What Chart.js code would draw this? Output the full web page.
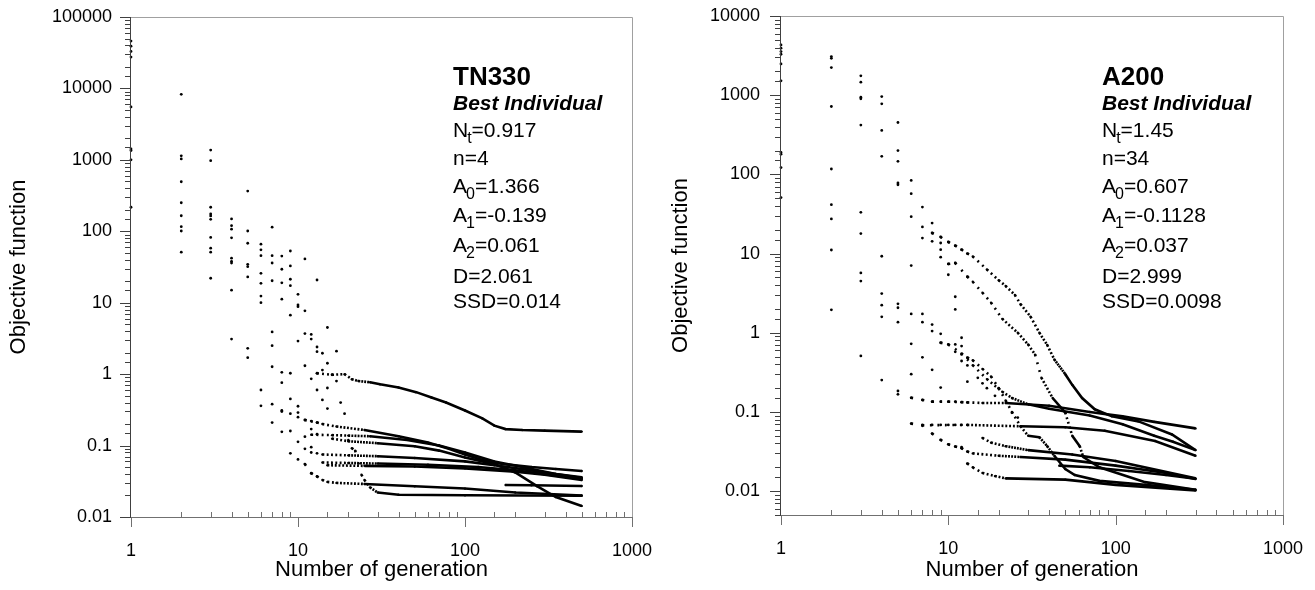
<!DOCTYPE html>
<html>
<head>
<meta charset="utf-8">
<script src="https://cdn.jsdelivr.net/npm/chart.js@4.4.1/dist/chart.umd.min.js"></script>
<style>
  html, body { margin: 0; padding: 0; background: #fff; }
  #wrap { position: relative; width: 1315px; height: 590px; }
  .box { position: absolute; top: 0; height: 590px; }
</style>
</head>
<body>
<div id="wrap">
  <div class="box" style="left:0;width:657px"><canvas id="tn"></canvas></div>
  <div class="box" style="left:657px;width:658px"><canvas id="a2"></canvas></div>
</div>
<script>
// values: [generation, objective function]

// TN330 - scattered individuals of the first generations
const tnEarly = [
  [1,46000],[1,39000],[1,33000],[1,27500],[1,5500],[1,1420],[1,1350],[1,1000],[1,217],
  [2,8280],[2,1140],[2,1030],[2,494],[2,251],[2,165],[2,116],[2,101],[2,51],
  [3,1370],[3,973],[3,217],[3,175],[3,164],[3,147],[3,82],[3,58],[3,51],[3,22],
  [4,149],[4,120],[4,107],[4,81],[4,42],[4,38],[4,36],[4,15],[4,3.1],
  [5,366],[5,101],[5,68],[5,34.5],[5,32],[5,23],[5,2.3],[5,1.7],
  [6,66],[6,55],[6,45.5],[6,25.8],[6,18.7],[6,12.4],[6,10],[6,0.6],[6,0.36],
  [7,114],[7,45.5],[7,36],[7,20.3],[7,3.9],[7,2.5],[7,1.27],[7,0.38],[7,0.21],
  [8,45],[8,29.4],[8,19],[8,11.2],[8,1.06],[8,0.76],[8,0.31],[8,0.3],[8,0.156],
  [9,53],[9,32.7],[9,21.3],[9,17.3],[9,6.7],[9,1.03],[9,0.45],[9,0.28],[9,0.16],[9,0.078],
  [10,13.1],[10,9.3],[10,8.8],[10,2.9],[10,0.355],[10,0.29],[10,0.25],[10,0.113],[10,0.064],
  [11,41],[11,7.7],[11,3.7],[11,1.31],[11,0.228],[11,0.133],[11,0.09],[11,0.055],
  [12,3.6],[12,3.1],[12,0.86],[12,0.22],[12,0.17],[12,0.095],[12,0.08],[12,0.041],
  [13,20.8],[13,2.4],[13,2.06],[13,1.03],[13,0.6],[13,0.21],[13,0.144],[13,0.078],[13,0.037],
  [14,1.96],[14,1.14],[14,0.435],[15,4.5],[15,1.42],[15,0.64],[15,0.33],
  [16,0.98],[17,2.1],[17,0.8],[18,0.4],[19,0.28]
];
// TN330 - the runs once they settle
const tnRunA = [[13,1.03],[16,0.98],[19,1.0],[21,0.85],[23,0.8],[27,0.77],[31,0.72],[40,0.65],[51,0.56],[63,0.47],[77,0.4],[100,0.31],[127,0.24],[150,0.19],[175,0.17],[220,0.165],[300,0.162],[500,0.157]];
const tnRunB = [[11,0.228],[13,0.21],[14,0.2],[17,0.185],[25,0.165],[40,0.135],[60,0.11],[80,0.09],[100,0.075],[130,0.062],[170,0.055],[250,0.05],[350,0.047],[500,0.044]];
const tnRunC = [[12,0.142],[16,0.14],[20,0.138],[27,0.135],[45,0.12],[70,0.1],[100,0.08],[150,0.06],[220,0.05],[350,0.04],[500,0.036]];
const tnRunD = [[16,0.125],[20,0.115],[30,0.108],[50,0.098],[70,0.085],[100,0.068],[150,0.055],[200,0.042],[270,0.027],[350,0.019],[500,0.0143]];
const tnRunE = [[14,0.075],[20,0.073],[30,0.071],[50,0.067],[100,0.06],[150,0.053],[250,0.045],[500,0.035]];
const tnRunF = [[14,0.058],[20,0.057],[30,0.056],[60,0.054],[120,0.05],[200,0.045],[500,0.034]];
const tnRunG = [[15,0.053],[25,0.052],[50,0.051],[100,0.048],[200,0.043],[300,0.039],[500,0.033]];
const tnRunH = [[11,0.055],[12,0.041],[13,0.037],[14,0.033],[15,0.031],[17,0.03],[25,0.029],[50,0.027],[100,0.025],[200,0.022],[500,0.02]];
const tnRunI = [[20,0.12],[21,0.092],[22,0.085],[24,0.039],[25,0.033],[27,0.026],[30,0.022],[40,0.0205],[100,0.0202],[500,0.0198]];
const tnRunJ = [[175,0.028],[250,0.0278],[500,0.0272]];
const tnRuns = [tnRunA, tnRunB, tnRunC, tnRunD, tnRunE, tnRunF, tnRunG, tnRunH, tnRunI, tnRunJ];

// A200 - scattered individuals of the first generations
const a2Early = [
  [1,4310],[1,3920],[1,3550],[1,3290],[1,2480],[1,1517],[1,189],[1,180],[1,122],[1,51],
  [2,3070],[2,2925],[2,2235],[2,720],[2,117],[2,41.5],[2,27.4],[2,11.1],[2,1.95],
  [3,1754],[3,1459],[3,944],[3,900],[3,419],[3,33.2],[3,17.9],[3,5.7],[3,4.5],[3,0.51],
  [4,961],[4,778],[4,359],[4,169],[4,9.25],[4,3.13],[4,2.23],[4,1.59],[4,0.253],
  [5,452],[5,200],[5,146],[5,77.8],[5,74],[5,2.32],[5,2.07],[5,1.36],[5,0.184],[5,0.167],
  [6,84],[6,57],[6,29.2],[6,7.06],[6,1.73],[6,0.726],[6,0.3],[6,0.151],[6,0.0713],
  [7,38.7],[7,21.7],[7,15.7],[7,1.73],[7,1.36],[7,0.49],[7,0.1416],[7,0.0686],[7,0.067],
  [8,24.3],[8,18.2],[8,14.3],[8,1.27],[8,1.05],[8,0.341],[8,0.135],[8,0.0686],[8,0.0533],
  [9,16.2],[9,13.6],[9,11.2],[9,9],[9,0.97],[9,0.748],[9,0.203],[9,0.135],[9,0.0686],[9,0.0444],
  [10,14],[10,7.4],[10,5.4],[10,0.713],[10,0.135],[10,0.0686],[10,0.039],
  [11,12.6],[11,7.6],[11,2.85],[11,1.97],[11,0.713],[11,0.575],[11,0.135],[11,0.0686],[11,0.0366],
  [12,11.2],[12,0.865],[12,0.68],[12,0.533],[12,0.44],[12,0.133],[12,0.0686],[12,0.036],[12,0.0347],
  [13,10],[13,5.1],[13,0.484],[13,0.387],[13,0.241],[13,0.132],[13,0.0686],[13,0.0316],[13,0.0223],
  [15,0.27],[16,0.23],[17,0.2],[19,0.16],[20,0.2],[24,0.098],[26,0.085]
];
// A200 - the runs once they settle
const a2RunA = [[8,18.2],[9,16.2],[10,14],[11,12.6],[12,11.2],[13,10],[14,9.2],[17,6.3],[20,4.6],[22,3.9],[25,3.0],[27,2.3],[31,1.6],[35,1.0],[39,0.7],[43,0.46],[50,0.3],[55,0.22],[63,0.15],[75,0.108],[95,0.088],[137,0.076],[217,0.052],[300,0.033]];
const a2RunB = [[6,0.151],[7,0.142],[8,0.135],[10,0.135],[12,0.133],[13,0.132],[16,0.13],[22,0.13],[40,0.12],[70,0.1],[110,0.088],[170,0.075],[300,0.062]];
const a2RunC = [[9,0.75],[10,0.71],[12,0.55],[14,0.39],[17,0.26],[21,0.18],[24,0.15],[30,0.125],[40,0.11],[70,0.09],[110,0.07],[170,0.05],[220,0.042],[300,0.033]];
const a2RunD = [[6,0.0713],[7,0.068],[13,0.0686],[27,0.066],[50,0.064],[86,0.058],[172,0.043],[300,0.028]];
const a2RunE = [[10,7.4],[11,7.6],[13,5.1],[14,4.4],[16,3.2],[18,2.4],[21,1.5],[26,1.0],[30,0.71],[33,0.53],[36,0.27],[42,0.15],[50,0.098],[55,0.05],[61,0.037],[64,0.027],[80,0.02],[150,0.013],[300,0.0104]];
const a2RunF = [[8,0.0533],[9,0.0444],[10,0.039],[11,0.0366],[12,0.035],[13,0.0316],[14,0.03],[20,0.028],[27,0.027],[50,0.025],[100,0.021],[200,0.017],[300,0.0142]];
const a2RunG = [[16,0.047],[18,0.041],[22,0.037],[30,0.033],[55,0.029],[100,0.024],[300,0.0145]];
const a2RunH = [[13,0.0223],[14,0.02],[16,0.017],[19,0.0155],[22,0.0145],[50,0.014],[100,0.012],[300,0.0102]];
const a2RunI = [[13,0.484],[14,0.45],[16,0.35],[18,0.28],[20,0.2],[22,0.14],[24,0.1],[27,0.066],[30,0.05],[35,0.048],[39,0.037],[43,0.028],[50,0.019],[57,0.016],[80,0.0135],[150,0.012],[300,0.0104]];
const a2RunJ = [[46,0.021],[70,0.02],[120,0.018],[200,0.016],[300,0.0144]];
const a2Runs = [a2RunA, a2RunB, a2RunC, a2RunD, a2RunE, a2RunF, a2RunG, a2RunH, a2RunI, a2RunJ];

// fitted parameters printed in the plots
const tnTitle = 'TN330';
const tnParams = [['N','t','=0.917'],['n','','=4'],['A','0','=1.366'],['A','1','=-0.139'],['A','2','=0.061'],['D','','=2.061'],['SSD','','=0.014']];
const a2Title = 'A200';
const a2Params = [['N','t','=1.45'],['n','','=34'],['A','0','=0.607'],['A','1','=-0.1128'],['A','2','=0.037'],['D','','=2.999'],['SSD','','=0.0098']];

const FAMILY = '"Liberation Sans", Arial, sans-serif';
Chart.defaults.font.family = FAMILY;
Chart.defaults.color = '#000';

const isDecade = v => Math.abs(Math.log10(v) - Math.round(Math.log10(v))) < 1e-9;
const decadeLabel = v => {
  if (!isDecade(v)) return '';
  return v >= 1 ? String(Math.round(v)) : v.toFixed(-Math.round(Math.log10(v)));
};
const toXY = pts => pts.map(p => ({ x: p[0], y: p[1] }));

// one dot per generation: where generations are far apart the line breaks up into dots
const dotDash = c => {
  const n = Math.max(c.p1.parsed.x - c.p0.parsed.x, 1);
  const step = Math.hypot(c.p1.x - c.p0.x, c.p1.y - c.p0.y) / n;
  return step > 2.6 ? [1.9, step - 1.9] : [];
};

const noteBase = [85, 110, 137, 165, 193, 222, 252, 283, 308];
const fnt = (w, s) => `${w} ${s}px ${FAMILY}`;

const framePlugin = {
  id: 'frame',
  afterDraw(chart, args, opts) {
    const { ctx, chartArea: a, scales: { x, y } } = chart;
    ctx.save();
    ctx.lineWidth = 1;
    ctx.strokeStyle = '#a0a0a0';
    ctx.beginPath();
    ctx.moveTo(a.left, a.top + 0.5);
    ctx.lineTo(a.right + 0.5, a.top + 0.5);
    ctx.lineTo(a.right + 0.5, a.bottom);
    ctx.stroke();

    // bottom axis, lighter
    ctx.strokeStyle = '#707070';
    ctx.beginPath();
    ctx.moveTo(a.left - 0.5, a.bottom + 0.5);
    ctx.lineTo(a.right + 0.5, a.bottom + 0.5);
    x.ticks.forEach(t => {
      const p = Math.round(x.getPixelForValue(t.value)) + 0.5;
      if (isDecade(t.value)) { ctx.moveTo(p, a.bottom); ctx.lineTo(p, a.bottom + 10); }
      else { ctx.moveTo(p, a.bottom); ctx.lineTo(p, a.bottom - 5); }
    });
    ctx.stroke();

    // left axis
    ctx.strokeStyle = '#404040';
    ctx.beginPath();
    ctx.moveTo(a.left - 0.5, a.top);
    ctx.lineTo(a.left - 0.5, a.bottom + 0.5);
    y.ticks.forEach(t => {
      const p = Math.round(y.getPixelForValue(t.value)) + 0.5;
      const len = isDecade(t.value) ? 11 : 6;
      ctx.moveTo(a.left - len, p);
      ctx.lineTo(a.left, p);
    });
    ctx.stroke();

    // parameter box
    const tx = opts.textX;
    ctx.fillStyle = '#000';
    ctx.textAlign = 'left';
    ctx.textBaseline = 'alphabetic';
    ctx.font = fnt('bold', 26);
    ctx.fillText(opts.title, tx, noteBase[0]);
    ctx.font = fnt('italic bold', 21);
    ctx.fillText('Best Individual', tx, noteBase[1]);
    opts.params.forEach((ln, i) => {
      const b = noteBase[i + 2];
      let cx = tx;
      ctx.font = fnt('normal', 21);
      ctx.fillText(ln[0], cx, b);
      cx += ctx.measureText(ln[0]).width;
      if (ln[1]) {
        ctx.font = fnt('normal', 16);
        ctx.fillText(ln[1], cx - 1, b + 6);
        cx += ctx.measureText(ln[1]).width - 1;
      }
      ctx.font = fnt('normal', 21);
      ctx.fillText(ln[2], cx, b);
    });
    ctx.restore();
  }
};

function makeChart(id, early, runs, cfg) {
  const datasets = [{
    data: toXY(early),
    showLine: false,
    pointRadius: 1.4,
    pointBackgroundColor: '#000',
    pointBorderWidth: 0,
    clip: false
  }];
  runs.forEach(r => datasets.push({
    data: toXY(r),
    showLine: true,
    borderColor: '#000',
    borderWidth: 2.6,
    pointRadius: 1.2,
    pointBackgroundColor: '#000',
    pointBorderWidth: 0,
    tension: 0,
    clip: false,
    segment: { borderDash: dotDash }
  }));

  return new Chart(document.getElementById(id), {
    type: 'scatter',
    data: { datasets },
    options: {
      responsive: true,
      maintainAspectRatio: false,
      animation: false,
      devicePixelRatio: 1,
      events: [],
      layout: { padding: { top: cfg.top, right: cfg.right, left: 0, bottom: 0 } },
      plugins: {
        legend: { display: false },
        tooltip: { enabled: false },
        frame: { textX: cfg.textX, title: cfg.title, params: cfg.params }
      },
      scales: {
        x: {
          type: 'logarithmic',
          min: 1,
          max: 1000,
          afterFit: s => { s.height = 590 - cfg.bottom; s.paddingLeft = 0; s.paddingRight = 0; },
          grid: { display: false, drawTicks: false },
          border: { display: false },
          ticks: { autoSkip: false, maxRotation: 0, padding: 23, font: { size: 18 }, callback: decadeLabel },
          title: { display: true, text: 'Number of generation', font: { size: 22 }, padding: { top: 0, bottom: 7 } }
        },
        y: {
          type: 'logarithmic',
          min: cfg.ymin,
          max: cfg.ymax,
          afterFit: s => { s.width = cfg.axisX; s.paddingTop = 0; s.paddingBottom = 0; },
          grid: { display: false, drawTicks: false },
          border: { display: false },
          ticks: { autoSkip: false, padding: cfg.labelPad, font: { size: 18 }, callback: decadeLabel },
          title: { display: true, text: 'Objective function', font: { size: 22 }, padding: { top: cfg.titlePad, bottom: 0 } }
        }
      }
    },
    plugins: [framePlugin]
  });
}

makeChart('tn', tnEarly, tnRuns, {
  top: 17, right: 25, bottom: 517, axisX: 131, ymin: 0.01, ymax: 100000,
  labelPad: 19, titlePad: 6, textX: 453, title: tnTitle, params: tnParams
});
makeChart('a2', a2Early, a2Runs, {
  top: 16, right: 32, bottom: 515, axisX: 124, ymin: 0.005, ymax: 10000,
  labelPad: 21, titlePad: 11, textX: 445, title: a2Title, params: a2Params
});
</script>
</body>
</html>
